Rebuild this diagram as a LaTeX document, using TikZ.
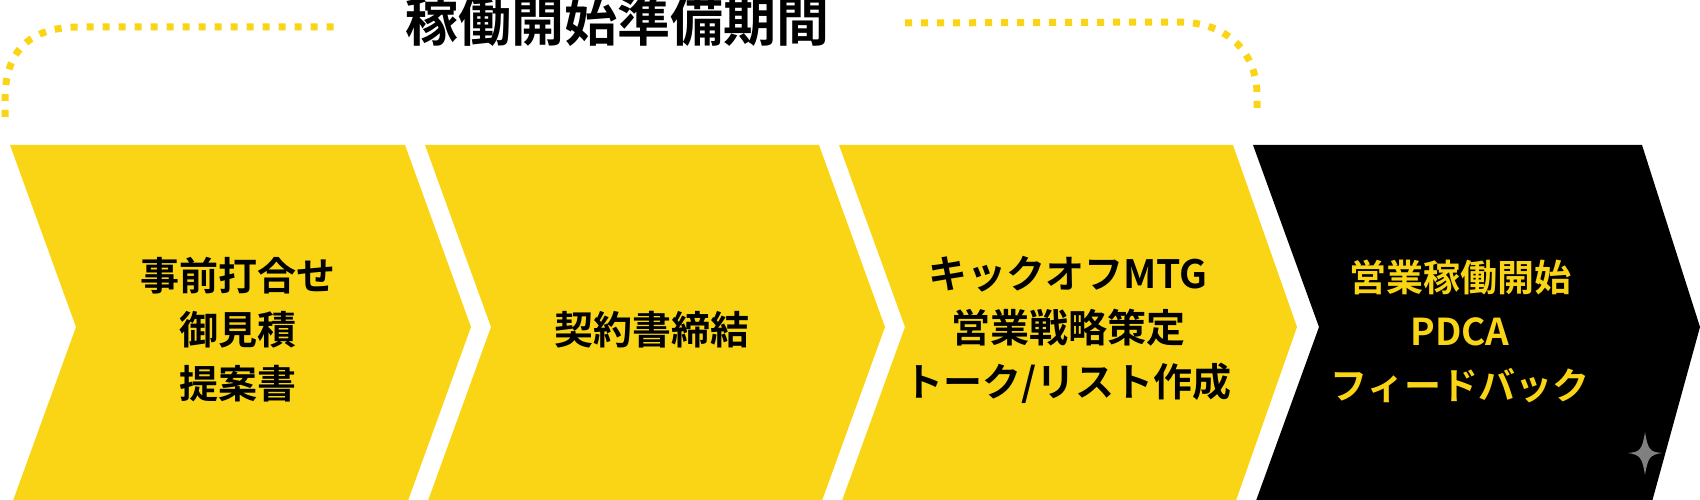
\documentclass[tikz,border=0pt]{standalone}
\usepackage{fontspec}
\newfontfamily\jpb{Noto Sans CJK JP Bold}
\definecolor{cy}{RGB}{250,213,22}
\definecolor{wm}{RGB}{128,128,128}
\begin{document}
\begin{tikzpicture}[x=1pt,y=-1pt,
  chev/.style={fill=cy},
  lbl/.style={font=\jpb\fontsize{39}{54}\selectfont, align=center, inner sep=0pt},
  dots/.style={draw=cy, line width=7pt, dash pattern=on 7pt off 9pt}]
\useasboundingbox (0,0) rectangle (1700,500);
% chevrons
\fill[chev] (10,145) -- (405,145) -- (471,327) -- (405,509) -- (10,509) -- (76,327) -- cycle;
\fill[chev] (425,145) -- (819,145) -- (885,327) -- (819,509) -- (425,509) -- (491,327) -- cycle;
\fill[chev] (839,145) -- (1233,145) -- (1297,327) -- (1233,509) -- (839,509) -- (905,327) -- cycle;
\fill[black] (1253,145) -- (1642,145) -- (1700,327) -- (1650,509) -- (1253,509) -- (1319,327) -- cycle;
% labels
\node[lbl] (c1) at (238,330) {事前打合せ\\御見積\\提案書};
\node[lbl] (c2) at (652,330) {契約書締結};
\node[lbl] (c3) at (1068,330) {キックオフMTG\\営業戦略策定\\トーク/リスト作成};
\node[lbl, text=cy, font=\jpb\fontsize{37}{54}\selectfont] (c4) at (1460,331) {営業稼働開始\\PDCA\\フィードバック};
% title and bracket
\node[font=\jpb\fontsize{53}{60}\selectfont, inner sep=0pt] (title) at (617,21) {稼働開始準備期間};
\draw[dots] (5,117) -- (5,100) .. controls (5,50) and (30,27) .. (80,27) -- (335,27);
\draw[dots] (905,23) -- (1178,22) .. controls (1230,22) and (1257,55) .. (1257,95) -- (1257,112);
% watermark sparkle
\fill[wm] (1645,432) .. controls (1648,450) and (1650,452) .. (1662,453)
  .. controls (1650,455) and (1648,457) .. (1645,475)
  .. controls (1642,457) and (1640,455) .. (1628,453)
  .. controls (1640,452) and (1642,450) .. (1645,432) -- cycle;
\end{tikzpicture}
\end{document}
